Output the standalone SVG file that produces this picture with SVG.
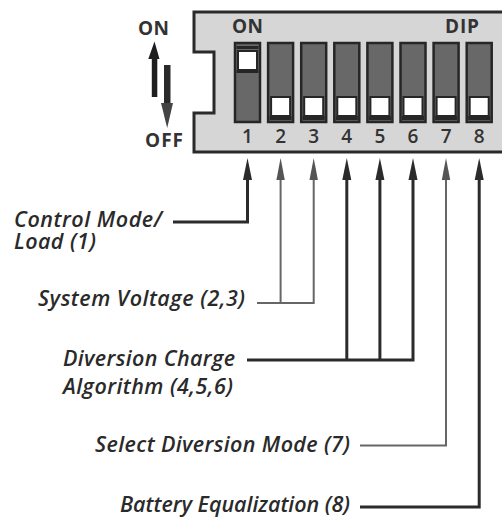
<svg xmlns="http://www.w3.org/2000/svg" width="502" height="518" viewBox="0 0 502 518">
<style>
.lbl{font-family:"Open Sans","Liberation Sans",sans-serif;font-style:italic;font-weight:600;font-size:21.5px;fill:#2a2a2a}
.cap{font-family:"Open Sans","Liberation Sans",sans-serif;font-weight:700;font-size:19px;fill:#333}
.num{font-family:"Open Sans","Liberation Sans",sans-serif;font-weight:600;font-size:19px;fill:#333;text-anchor:middle}
.slot{fill:#686868;stroke:#262626;stroke-width:2.5}
.knob{fill:#fff;stroke:#262626;stroke-width:2}
.thick{fill:none;stroke:#2b2b2b;stroke-width:3}
.thin{fill:none;stroke:#666;stroke-width:2}
</style>
<defs>
<marker id="ah" markerUnits="userSpaceOnUse" markerWidth="23" markerHeight="10" viewBox="0 0 23 10" refX="0" refY="5" orient="auto" overflow="visible">
<path d="M0,0.5 L22,5 L0,9.5 Z" fill="#2b2b2b"/>
</marker>
<marker id="ah2" markerUnits="userSpaceOnUse" markerWidth="23" markerHeight="10" viewBox="0 0 23 10" refX="0" refY="5" orient="auto" overflow="visible">
<path d="M0,0.8 L22,5 L0,9.2 Z" fill="#555"/>
</marker>
</defs>
<rect width="502" height="518" fill="#fff"/>

<g id="panel">
<path d="M194,12 H504 V152 H194 V113 H214 V52 H194 Z" fill="#d6d6d6" stroke="#2a2a2a" stroke-width="3"/>
<text class="cap" x="232" y="33" textLength="31">ON</text>
<text class="cap" x="445" y="33" textLength="34">DIP</text>
</g>

<g id="switch1">
<rect class="slot" x="235" y="43" width="25" height="79"/>
<rect x="236.5" y="46" width="22" height="3" fill="#262626"/>
<rect class="knob" x="238" y="51" width="19" height="19"/>
<rect x="236.5" y="70" width="22" height="3" fill="#262626"/>
<text class="num" x="247.5" y="143">1</text>
</g>
<g id="switch2">
<rect class="slot" x="268.1" y="43" width="25" height="79"/>
<rect class="knob" x="271.1" y="97" width="19" height="19"/>
<rect x="269.6" y="116" width="22" height="4" fill="#262626"/>
<text class="num" x="280.6" y="143">2</text>
</g>
<g id="switch3">
<rect class="slot" x="301.2" y="43" width="25" height="79"/>
<rect class="knob" x="304.2" y="97" width="19" height="19"/>
<rect x="302.7" y="116" width="22" height="4" fill="#262626"/>
<text class="num" x="313.7" y="143">3</text>
</g>
<g id="switch4">
<rect class="slot" x="334.3" y="43" width="25" height="79"/>
<rect class="knob" x="337.3" y="97" width="19" height="19"/>
<rect x="335.8" y="116" width="22" height="4" fill="#262626"/>
<text class="num" x="346.8" y="143">4</text>
</g>
<g id="switch5">
<rect class="slot" x="367.4" y="43" width="25" height="79"/>
<rect class="knob" x="370.4" y="97" width="19" height="19"/>
<rect x="368.9" y="116" width="22" height="4" fill="#262626"/>
<text class="num" x="379.9" y="143">5</text>
</g>
<g id="switch6">
<rect class="slot" x="400.5" y="43" width="25" height="79"/>
<rect class="knob" x="403.5" y="97" width="19" height="19"/>
<rect x="402" y="116" width="22" height="4" fill="#262626"/>
<text class="num" x="413" y="143">6</text>
</g>
<g id="switch7">
<rect class="slot" x="433.6" y="43" width="25" height="79"/>
<rect class="knob" x="436.6" y="97" width="19" height="19"/>
<rect x="435.1" y="116" width="22" height="4" fill="#262626"/>
<text class="num" x="446.1" y="143">7</text>
</g>
<g id="switch8">
<rect class="slot" x="466.7" y="43" width="25" height="79"/>
<rect class="knob" x="469.7" y="97" width="19" height="19"/>
<rect x="468.2" y="116" width="22" height="4" fill="#262626"/>
<text class="num" x="479.2" y="143">8</text>
</g>

<g id="legend">
<text class="cap" x="138" y="35" textLength="31">ON</text>
<text class="cap" x="145" y="147" textLength="38">OFF</text>
<rect x="151.8" y="56" width="5.5" height="41" fill="#1e1e1e"/>
<path d="M148.3,59 L154.5,41.5 L159.5,59 Z" fill="#1e1e1e"/>
<rect x="164" y="65" width="6.5" height="40" fill="#2a2a2a"/>
<path d="M161,103 L173,103 L167.2,128 Z" fill="#444"/>
</g>

<g id="connectors">
<path class="thick" d="M173,222 H247.5 V180" marker-end="url(#ah)"/>
<path class="thin" d="M257,303 H313.7 V180" marker-end="url(#ah2)"/>
<path class="thin" d="M280.6,303 V180" stroke="#4a4a4a" marker-end="url(#ah2)"/>
<path class="thick" d="M247,360 H413 V180" marker-end="url(#ah)"/>
<path class="thick" d="M346.8,360 V180" marker-end="url(#ah)"/>
<path class="thick" d="M379.9,360 V180" marker-end="url(#ah)"/>
<path class="thin" d="M360,445.5 H446 V180" marker-end="url(#ah2)"/>
<path class="thick" d="M360,507 H479.2 V180" marker-end="url(#ah)"/>
</g>

<g id="label1">
<text class="lbl" x="14" y="227" textLength="148">Control Mode/</text>
<text class="lbl" x="14" y="249" textLength="82">Load (1)</text>
</g>
<g id="label23">
<text class="lbl" x="38" y="306" textLength="207">System Voltage (2,3)</text>
</g>
<g id="label456">
<text class="lbl" x="63" y="366" textLength="172">Diversion Charge</text>
<text class="lbl" x="63" y="394" textLength="170">Algorithm (4,5,6)</text>
</g>
<g id="label7">
<text class="lbl" x="95" y="452" textLength="255">Select Diversion Mode (7)</text>
</g>
<g id="label8">
<text class="lbl" x="120" y="512" textLength="230">Battery Equalization (8)</text>
</g>
</svg>
